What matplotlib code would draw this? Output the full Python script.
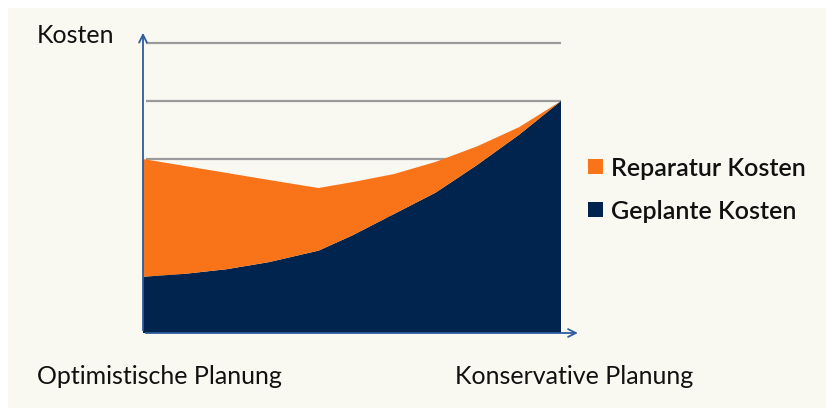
import matplotlib
matplotlib.use("Agg")
import matplotlib.pyplot as plt
from matplotlib.patches import Rectangle

# Kostenverlauf zwischen optimistischer und konservativer Planung
x = [0, 1, 2, 3, 4.2, 5, 6, 7, 8, 9, 10]
geplante_kosten = [0.97, 1.02, 1.10, 1.22, 1.42, 1.68, 2.05, 2.42, 2.90, 3.42, 4.00]
reparatur_kosten = [2.03, 1.86, 1.66, 1.42, 1.08, 0.92, 0.69, 0.53, 0.32, 0.13, 0.00]
gitter = [1, 2, 3, 4, 5]

orange = "#f97419"
navy = "#00244d"
achse = "#2e5c9e"
creme = "#f9f8f1"

W, H = 826, 408
fig = plt.figure(figsize=(W / 100, H / 100), dpi=100)
fig.patch.set_facecolor("white")
fig.patches.append(Rectangle((8 / W, 0), 1, 1 - 8 / H, transform=fig.transFigure,
                             facecolor=creme, edgecolor="none", zorder=-5))

ax = fig.add_axes([143 / W, 1 - 333 / H, 418 / W, 303 / H])
ax.set_facecolor("none")
ax.set_xlim(0, 10)
ax.set_ylim(0, 303 / 58)

ax.hlines(gitter, 0.08, 10, color="#9b9b9b", lw=1.6, zorder=1)
ax.stackplot(x, geplante_kosten, reparatur_kosten, colors=[navy, orange],
             labels=["Geplante Kosten", "Reparatur Kosten"], zorder=2)

for s in ax.spines.values():
    s.set_visible(False)
ax.set_xticks([])
ax.set_yticks([])

# Achsen mit Pfeilspitzen
pfeil = dict(arrowstyle="->", color=achse, lw=1.3, mutation_scale=14)
ax.annotate("", xy=(0, 1.0), xytext=(0, 0), xycoords="axes fraction",
            arrowprops=pfeil, annotation_clip=False, zorder=5)
ax.annotate("", xy=(1.047, 0), xytext=(0, 0), xycoords="axes fraction",
            arrowprops=pfeil, annotation_clip=False, zorder=5)

schrift = ["Lato", "DejaVu Sans"]
fig.text(37 / W, 1 - 43 / H, "Kosten", fontsize=18, family=schrift, color="#111111")
fig.text(37 / W, 1 - 384 / H, "Optimistische Planung", fontsize=18, family=schrift, color="#111111")
fig.text(455 / W, 1 - 384 / H, "Konservative Planung", fontsize=18, family=schrift, color="#111111")

# Legende
eintraege = [("Reparatur Kosten", orange, 159), ("Geplante Kosten", navy, 202)]
for text, farbe, top in eintraege:
    fig.patches.append(Rectangle((588 / W, 1 - (top + 15) / H), 15 / W, 15 / H,
                                 transform=fig.transFigure, facecolor=farbe,
                                 edgecolor="none", zorder=3))
    fig.text(611 / W, 1 - (top + 17) / H, text, fontsize=18, family=schrift,
             weight="semibold", color="#111111")

fig.savefig("out.png", dpi=100, facecolor=fig.get_facecolor())
